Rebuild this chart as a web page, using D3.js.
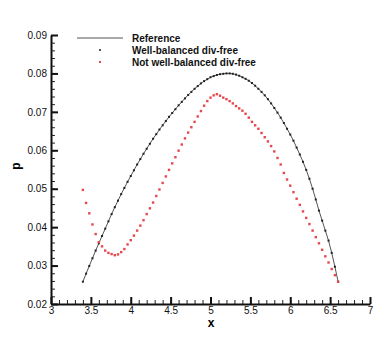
<!DOCTYPE html>
<html>
<head>
<meta charset="utf-8">
<script src="https://cdn.jsdelivr.net/npm/d3@7"></script>
<style>
  body { margin: 0; background: #fff; }
  svg text { font-family: "Liberation Sans", Arial, sans-serif; }
</style>
</head>
<body>
<div id="chart"></div>
<script>
let width = 390;
let height = 342;

// x positions of the samples
const xs = [3.40, 3.44, 3.48, 3.52, 3.56, 3.60, 3.64, 3.68, 3.72, 3.76,
  3.80, 3.84, 3.88, 3.92, 3.96, 4.00, 4.04, 4.08, 4.12, 4.16,
  4.20, 4.24, 4.28, 4.32, 4.36, 4.40, 4.44, 4.48, 4.52, 4.56,
  4.60, 4.64, 4.68, 4.72, 4.76, 4.80, 4.84, 4.88, 4.92, 4.96,
  5.00, 5.04, 5.08, 5.12, 5.16, 5.20, 5.24, 5.28, 5.32, 5.36,
  5.40, 5.44, 5.48, 5.52, 5.56, 5.60, 5.64, 5.68, 5.72, 5.76,
  5.80, 5.84, 5.88, 5.92, 5.96, 6.00, 6.04, 6.08, 6.12, 6.16,
  6.20, 6.24, 6.28, 6.32, 6.36, 6.40, 6.44, 6.48, 6.52, 6.56, 6.60];

// reference solution (also the well-balanced result)
const pRef = [0.0258, 0.0279, 0.0299, 0.0319, 0.0339, 0.0358, 0.0377, 0.0396, 0.0415, 0.0434,
  0.0452, 0.0469, 0.0486, 0.0502, 0.0518, 0.0533, 0.0548, 0.0563, 0.0577, 0.0591,
  0.0604, 0.0617, 0.0630, 0.0642, 0.0654, 0.0665, 0.0676, 0.0687, 0.0697, 0.0707,
  0.0717, 0.0726, 0.0735, 0.0744, 0.0752, 0.0760, 0.0767, 0.0774, 0.0780, 0.0785,
  0.0790, 0.0793, 0.0796, 0.0798, 0.0799, 0.0800, 0.0800, 0.0799, 0.0797, 0.0794,
  0.0790, 0.0786, 0.0781, 0.0775, 0.0768, 0.0760, 0.0752, 0.0743, 0.0733, 0.0722,
  0.0710, 0.0698, 0.0685, 0.0671, 0.0656, 0.0641, 0.0625, 0.0607, 0.0589, 0.0570,
  0.0549, 0.0526, 0.0500, 0.0472, 0.0443, 0.0417, 0.0391, 0.0365, 0.0333, 0.0297, 0.0258];

// not well-balanced result
const pNwb = [0.0497, 0.0463, 0.0436, 0.0407, 0.0382, 0.0361, 0.0350, 0.0339, 0.0333, 0.0330,
  0.0327, 0.0329, 0.0335, 0.0343, 0.0355, 0.0366, 0.0378, 0.0391, 0.0404, 0.0418,
  0.0434, 0.0449, 0.0464, 0.0481, 0.0498, 0.0515, 0.0532, 0.0549, 0.0566, 0.0582,
  0.0599, 0.0615, 0.0631, 0.0646, 0.0660, 0.0674, 0.0688, 0.0702, 0.0716, 0.0728,
  0.0737, 0.0743, 0.0746, 0.0742, 0.0737, 0.0733, 0.0728, 0.0722, 0.0715, 0.0709,
  0.0703, 0.0695, 0.0685, 0.0674, 0.0665, 0.0656, 0.0645, 0.0634, 0.0623, 0.0611,
  0.0597, 0.0580, 0.0563, 0.0541, 0.0524, 0.0508, 0.0491, 0.0474, 0.0458, 0.0441,
  0.0424, 0.0408, 0.0391, 0.0374, 0.0358, 0.0341, 0.0324, 0.0308, 0.0291, 0.0275, 0.0258];

const xTicks = [3, 3.5, 4, 4.5, 5, 5.5, 6, 6.5, 7];
const yTicks = [0.02, 0.03, 0.04, 0.05, 0.06, 0.07, 0.08, 0.09];
const legendLabels = ["Reference", "Well-balanced div-free", "Not well-balanced div-free"];

let svg = d3.select("#chart")
  .append("svg")
  .attr("width", width)
  .attr("height", height);

let x = d3.scaleLinear().domain([3, 7]).range([51, 370]);
let y = d3.scaleLinear().domain([0.02, 0.09]).range([304, 35]);

// minor ticks
svg.append("g")
  .attr("transform", "translate(0,304)")
  .call(d3.axisBottom(x).tickValues(d3.range(30, 71).map(d => d / 10)).tickSize(-4).tickFormat(""))
  .call(g => g.select(".domain").remove())
  .call(g => g.selectAll("line").attr("stroke", "#222").attr("stroke-width", 1));
svg.append("g")
  .attr("transform", "translate(51,0)")
  .call(d3.axisLeft(y).tickValues(d3.range(10, 46).map(d => d / 500)).tickSize(-4).tickFormat(""))
  .call(g => g.select(".domain").remove())
  .call(g => g.selectAll("line").attr("stroke", "#222").attr("stroke-width", 1));

// major ticks + axis lines
let xAxis = svg.append("g")
  .attr("transform", "translate(0,304)")
  .call(d3.axisBottom(x).tickValues(xTicks).tickSize(-7).tickSizeOuter(0).tickPadding(3).tickFormat(d3.format("")));
let yAxis = svg.append("g")
  .attr("transform", "translate(51,0)")
  .call(d3.axisLeft(y).tickValues(yTicks).tickSize(-7).tickSizeOuter(0).tickPadding(4).tickFormat(d3.format(".2f")));

[xAxis, yAxis].forEach(g => {
  g.select(".domain").attr("stroke", "#111").attr("stroke-width", 2);
  g.selectAll(".tick line").attr("stroke", "#111").attr("stroke-width", 2);
  g.selectAll("text").attr("fill", "#111").style("font-size", "10px");
});

// axis titles
svg.append("text")
  .attr("x", 211).attr("y", 327)
  .attr("text-anchor", "middle")
  .style("font-size", "12px").style("font-weight", "bold")
  .text("x");
svg.append("text")
  .attr("transform", "translate(20,166) rotate(-90)")
  .attr("text-anchor", "middle")
  .style("font-size", "12px").style("font-weight", "bold")
  .text("p");

let pts = xs.map((v, i) => ({ x: v, ref: pRef[i], nwb: pNwb[i] }));

// reference line
let line = d3.line().x(d => x(d.x)).y(d => y(d.ref));
svg.append("path")
  .datum(pts)
  .attr("fill", "none")
  .attr("stroke", "#555")
  .attr("stroke-width", 1)
  .attr("d", line);

// well-balanced markers
svg.append("g")
  .selectAll("rect")
  .data(pts)
  .enter().append("rect")
  .attr("x", d => x(d.x) - 1)
  .attr("y", d => y(d.ref) - 1)
  .attr("width", 2).attr("height", 2)
  .attr("fill", "#222");

// not well-balanced markers
svg.append("g")
  .selectAll("rect")
  .data(pts)
  .enter().append("rect")
  .attr("x", d => x(d.x) - 1.2)
  .attr("y", d => y(d.nwb) - 1.2)
  .attr("width", 2.4).attr("height", 2.4)
  .attr("fill", "#e5484d");

// legend
let legend = svg.append("g");
legend.append("line")
  .attr("x1", 77).attr("x2", 123).attr("y1", 38).attr("y2", 38)
  .attr("stroke", "#555").attr("stroke-width", 1);
legend.append("rect")
  .attr("x", 99).attr("y", 49).attr("width", 2).attr("height", 2).attr("fill", "#555");
legend.append("rect")
  .attr("x", 99).attr("y", 61).attr("width", 2).attr("height", 2).attr("fill", "#e5484d");
legend.selectAll("text")
  .data(legendLabels)
  .enter().append("text")
  .attr("x", 132)
  .attr("y", (d, i) => 42 + i * 12)
  .style("font-size", "10px").style("font-weight", "bold")
  .attr("fill", "#111")
  .text(d => d);
</script>
</body>
</html>
